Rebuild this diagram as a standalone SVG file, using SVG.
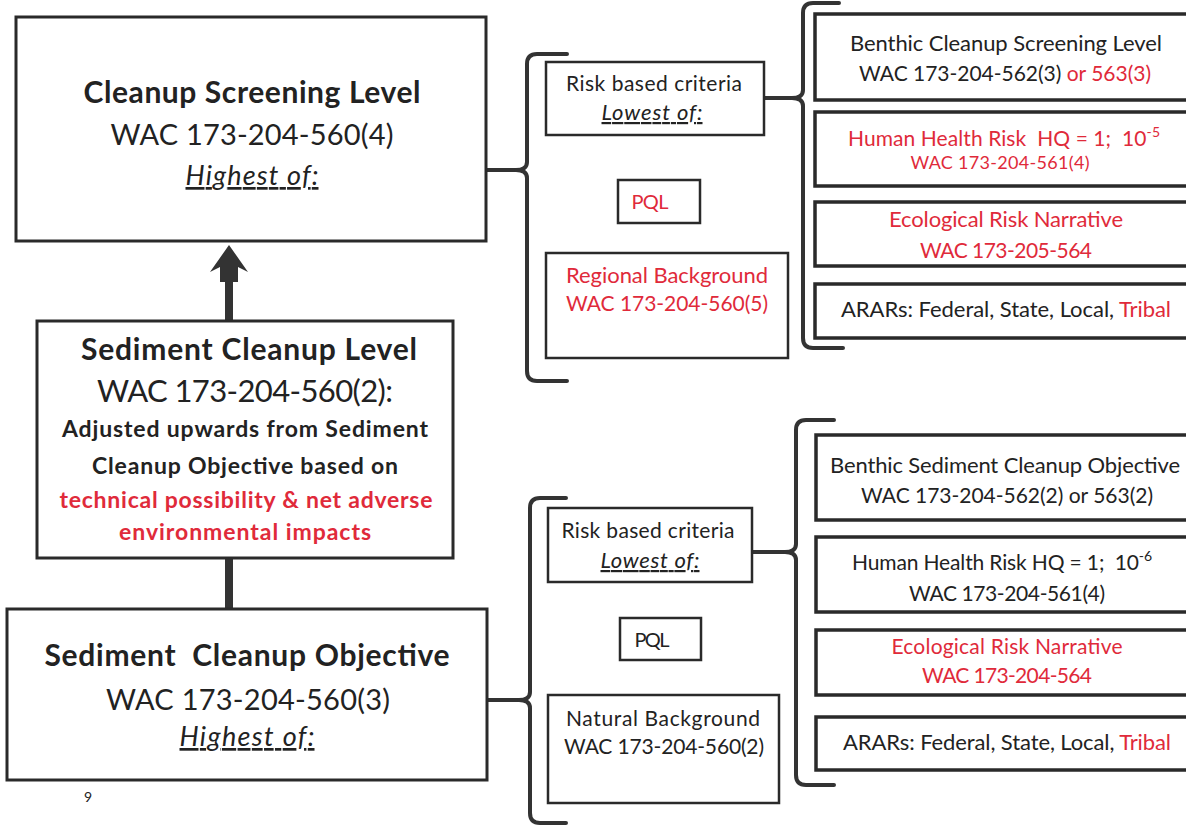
<svg xmlns="http://www.w3.org/2000/svg" width="1186" height="829" viewBox="0 0 1186 829">
<defs>
<style>
text{font-family:Lato,"Open Sans","Liberation Sans",sans-serif;fill:#222;text-anchor:middle}
.b{font-weight:bold}
.r{fill:#e02a3a}
.u{font-style:italic;text-decoration:underline}
.box{fill:#fff;stroke:#2a2a2a;stroke-width:3}
.rb{fill:#fff;stroke:#2a2a2a;stroke-width:3.5}
.sb{fill:#fff;stroke:#2a2a2a;stroke-width:2.5}
.br{fill:none;stroke:#333;stroke-width:4;stroke-linejoin:round;stroke-linecap:round}
.ln{stroke:#333;stroke-width:4;fill:none}
.tk{stroke:#333;stroke-width:8;fill:none}
</style>
</defs>
<rect width="1186" height="829" fill="#fff"/>

<g id="connectors">
<line class="tk" x1="229" y1="321" x2="229" y2="270"/>
<polygon points="229,245 248,272 238,267 238,282 220,282 220,267 210,272" fill="#333"/>
<line class="tk" x1="229" y1="609" x2="229" y2="558"/>
<line class="ln" x1="486" y1="170" x2="518" y2="170"/>
<line class="ln" x1="487" y1="700" x2="520" y2="700"/>
<line class="ln" x1="764" y1="98" x2="793" y2="98"/>
<line class="ln" x1="752" y1="552" x2="786" y2="552"/>
<path class="br" d="M567,54 L537,54 Q527,54 527,64 L527,162 Q527,170 516,170 Q527,170 527,178 L527,371 Q527,381 537,381 L567,381"/>
<path class="br" d="M839,3 L813,3 Q803,3 803,13 L803,90 Q803,98 792,98 Q803,98 803,106 L803,338 Q803,348 813,348 L843,348"/>
<path class="br" d="M566,498 L540,498 Q530,498 530,508 L530,692 Q530,700 519,700 Q530,700 530,708 L530,813 Q530,823 540,823 L566,823"/>
<path class="br" d="M834,420 L806,420 Q796,420 796,430 L796,544 Q796,552 785,552 Q796,552 796,560 L796,775 Q796,785 806,785 L834,785"/>
</g>

<g id="cleanup-screening-level">
<rect class="box" x="16" y="17" width="470" height="224"/>
<text class="b" x="252" y="103" font-size="30" textLength="337">Cleanup Screening Level</text>
<text x="252" y="145" font-size="29" textLength="283">WAC 173-204-560(4)</text>
<text class="u" x="252" y="185" font-size="27" textLength="133">Highest of:</text>
</g>

<g id="sediment-cleanup-level">
<rect class="box" x="37" y="321" width="416" height="237"/>
<text class="b" x="249" y="360" font-size="30" textLength="336">Sediment Cleanup Level</text>
<text x="245" y="402" font-size="31" textLength="296">WAC 173-204-560(2):</text>
<text class="b" x="245" y="437" font-size="23" textLength="366">Adjusted upwards from Sediment</text>
<text class="b" x="245" y="474" font-size="23" textLength="306">Cleanup Objective based on</text>
<text class="b r" x="246" y="508" font-size="23" textLength="373">technical possibility &amp; net adverse</text>
<text class="b r" x="245" y="540" font-size="23" textLength="252">environmental impacts</text>
</g>

<g id="sediment-cleanup-objective">
<rect class="box" x="7" y="609" width="480" height="171"/>
<text class="b" x="247" y="666" font-size="30" textLength="405" xml:space="preserve">Sediment  Cleanup Objective</text>
<text x="248" y="710" font-size="29" textLength="284">WAC 173-204-560(3)</text>
<text class="u" x="247" y="746" font-size="27" textLength="135">Highest of:</text>
<text x="88" y="802" font-size="14" fill="#444">9</text>
</g>

<g id="risk-top">
<rect class="sb" x="546" y="62" width="218" height="73"/>
<text x="654" y="91" font-size="21" textLength="176">Risk based criteria</text>
<text class="u" x="652" y="120" font-size="22" textLength="101">Lowest of:</text>
</g>
<g id="pql-top">
<rect class="sb" x="618" y="180" width="82" height="43"/>
<text class="r" x="650" y="209" font-size="20" textLength="37">PQL</text>
</g>
<g id="regional-background">
<rect class="sb" x="546" y="253" width="242" height="105"/>
<text class="r" x="667" y="283" font-size="22" textLength="202">Regional Background</text>
<text class="r" x="667" y="311" font-size="21" textLength="202">WAC 173-204-560(5)</text>
</g>

<g id="benthic-csl">
<rect class="rb" x="815" y="14" width="390" height="86"/>
<text x="1006" y="51" font-size="22" textLength="312">Benthic Cleanup Screening Level</text>
<text x="1005" y="81" font-size="21" textLength="292">WAC 173-204-562(3) <tspan class="r">or 563(3)</tspan></text>
</g>
<g id="human-health-top">
<rect class="rb" x="815" y="112" width="390" height="74"/>
<text class="r" x="1004" y="146" font-size="21" textLength="312" xml:space="preserve">Human Health Risk  HQ = 1;  10<tspan font-size="14" dy="-9">-5</tspan></text>
<text class="r" x="1000" y="169" font-size="18" textLength="179">WAC 173-204-561(4)</text>
</g>
<g id="eco-top">
<rect class="rb" x="815" y="202" width="390" height="64"/>
<text class="r" x="1006" y="227" font-size="22" textLength="234">Ecological Risk Narrative</text>
<text class="r" x="1006" y="258" font-size="21" textLength="172">WAC 173-205-564</text>
</g>
<g id="arars-top">
<rect class="rb" x="815" y="284" width="390" height="54"/>
<text x="1006" y="317" font-size="22" textLength="330">ARARs: Federal, State, Local, <tspan class="r">Tribal</tspan></text>
</g>

<g id="risk-bottom">
<rect class="sb" x="548" y="508" width="204" height="74"/>
<text x="648" y="538" font-size="21" textLength="173">Risk based criteria</text>
<text class="u" x="650" y="568" font-size="22" textLength="99">Lowest of:</text>
</g>
<g id="pql-bottom">
<rect class="sb" x="620" y="618" width="81" height="42"/>
<text x="652" y="647" font-size="20" textLength="35">PQL</text>
</g>
<g id="natural-background">
<rect class="sb" x="548" y="695" width="231" height="108"/>
<text x="663" y="726" font-size="21" textLength="194">Natural Background</text>
<text x="664" y="754" font-size="21" textLength="200">WAC 173-204-560(2)</text>
</g>

<g id="benthic-sco">
<rect class="rb" x="816" y="435" width="390" height="85"/>
<text x="1005" y="473" font-size="22" textLength="350">Benthic Sediment Cleanup Objective</text>
<text x="1007" y="503" font-size="21" textLength="292">WAC 173-204-562(2) or 563(2)</text>
</g>
<g id="human-health-bottom">
<rect class="rb" x="816" y="537" width="390" height="75"/>
<text x="1002" y="570" font-size="21" textLength="300" xml:space="preserve">Human Health Risk HQ = 1;  10<tspan font-size="14" dy="-9">-6</tspan></text>
<text x="1007" y="601" font-size="21" textLength="196">WAC 173-204-561(4)</text>
</g>
<g id="eco-bottom">
<rect class="rb" x="816" y="630" width="390" height="65"/>
<text class="r" x="1007" y="654" font-size="21" textLength="231">Ecological Risk Narrative</text>
<text class="r" x="1007" y="683" font-size="21" textLength="170">WAC 173-204-564</text>
</g>
<g id="arars-bottom">
<rect class="rb" x="816" y="717" width="390" height="53"/>
<text x="1007" y="750" font-size="22" textLength="328">ARARs: Federal, State, Local, <tspan class="r">Tribal</tspan></text>
</g>
</svg>
